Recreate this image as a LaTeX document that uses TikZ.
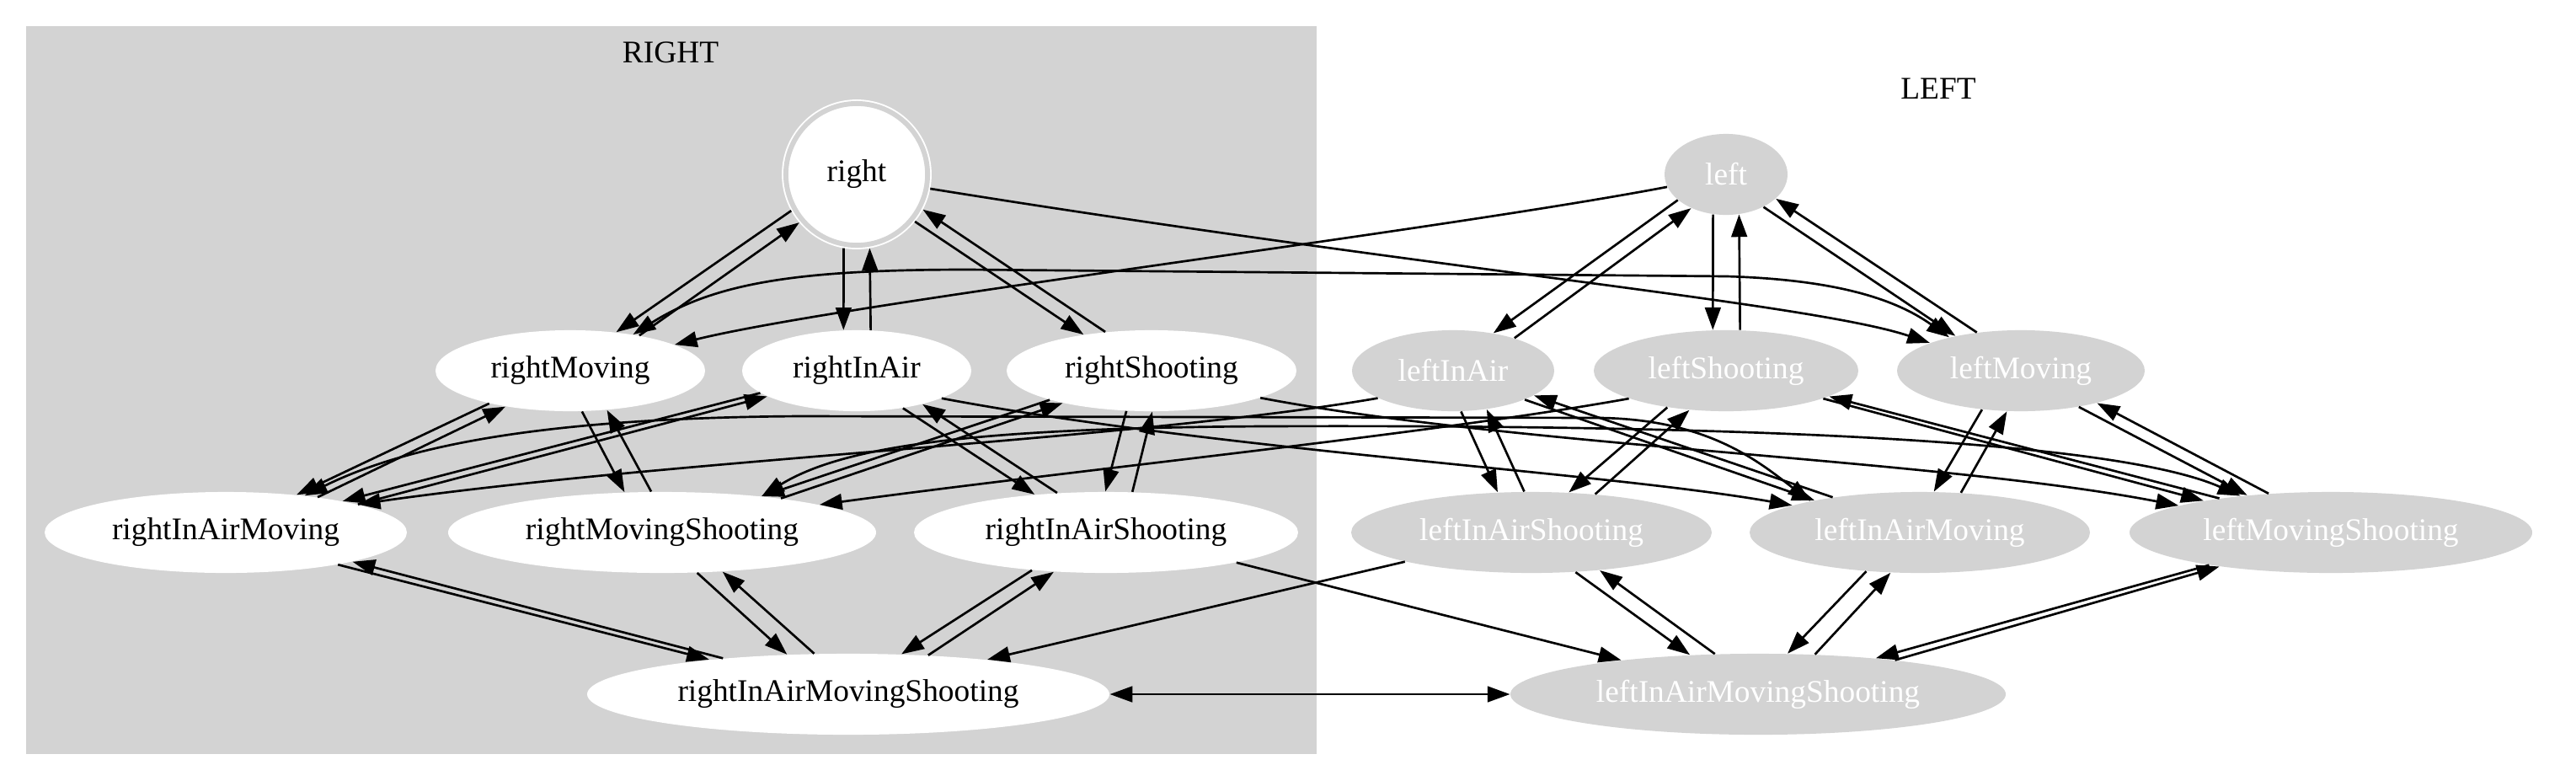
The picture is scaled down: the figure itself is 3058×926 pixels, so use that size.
\documentclass[tikz,border=0pt]{standalone}
\usepackage{fontspec}
\setmainfont{Liberation Serif}
\usetikzlibrary{arrows.meta,shapes.geometric}
\definecolor{gvgray}{HTML}{D3D3D3}
\tikzset{
  gvarrow/.style={line width=1pt,-{Triangle[length=10pt,width=7pt]}},
  gvboth/.style={line width=1pt,{Triangle[length=10pt,width=7pt]}-{Triangle[length=10pt,width=7pt]}},
  rstate/.style={ellipse,fill=white,inner sep=0pt,minimum height=36pt,minimum width=#1*0.749pt},
  lstate/.style={rstate=#1,fill=gvgray,text=white},
  startstate/.style={circle,fill=white,draw=white,line width=0.7pt,double=gvgray,
    double distance=2.2pt,minimum size=63pt,inner sep=0pt,outer sep=1.8pt}
}
% one edge of a pair, put beside the centre line
\newcommand\gvedge[2]{%
  \pgfpointdiff{\pgfpointanchor{#1}{center}}{\pgfpointanchor{#2}{center}}\pgfgetlastxy\gdx\gdy
  \pgfpointdiff{\pgfpointanchor{#1}{center}}{\pgfpointanchor{#1}{east}}\pgfgetlastxy\gax\gtmp
  \pgfpointdiff{\pgfpointanchor{#1}{center}}{\pgfpointanchor{#1}{north}}\pgfgetlastxy\gtmp\gay
  \pgfpointdiff{\pgfpointanchor{#2}{center}}{\pgfpointanchor{#2}{east}}\pgfgetlastxy\gbx\gtmp
  \pgfpointdiff{\pgfpointanchor{#2}{center}}{\pgfpointanchor{#2}{north}}\pgfgetlastxy\gtmp\gby
  \pgfmathsetmacro\gdir{atan2(\gdy,\gdx)}%
  \pgfmathsetmacro\goff{6*abs(sin(\gdir))}%
  \pgfmathsetmacro\gra{\gax*\gay/sqrt((\gay*cos(\gdir))^2+(\gax*sin(\gdir))^2)}%
  \pgfmathsetmacro\grb{\gbx*\gby/sqrt((\gby*cos(\gdir))^2+(\gbx*sin(\gdir))^2)}%
  \pgfmathsetmacro\gta{\gdir-atan(\goff/\gra)}%
  \pgfmathsetmacro\gtb{\gdir+180+atan(\goff/\grb)}%
  \draw[gvarrow] (#1.\gta) -- (#2.\gtb);
}
\newcommand\gvpair[2]{\gvedge{#1}{#2}\gvedge{#2}{#1}}

\begin{document}
\begin{tikzpicture}[x=0.3745pt,y=-0.3745pt,font=\fontsize{14}{16}\selectfont]
\useasboundingbox (0,0) rectangle (3058,926);
\fill[gvgray] (31,31) rectangle (1563,895);
\node (rightLabel) at (796,62) {RIGHT};
\node (leftLabel) at (2301,105) {LEFT};

% RIGHT
\node[startstate] (right) at (1017,207) {right};
\node[rstate=160] (rightMoving) at (677,440) {rightMoving};
\node[rstate=136] (rightInAir) at (1017,440) {rightInAir};
\node[rstate=172] (rightShooting) at (1367,440) {rightShooting};
\node[rstate=215] (rightInAirMoving) at (268,632) {rightInAirMoving};
\node[rstate=254] (rightMovingShooting) at (786,632) {rightMovingShooting};
\node[rstate=228] (rightInAirShooting) at (1313,632) {rightInAirShooting};
\node[rstate=310] (rightInAirMovingShooting) at (1007,824) {rightInAirMovingShooting};

% LEFT
\node[lstate=73] (left) at (2049,207) {left};
\node[lstate=120] (leftInAir) at (1725,440) {leftInAir};
\node[lstate=157] (leftShooting) at (2049,440) {leftShooting};
\node[lstate=147] (leftMoving) at (2399,440) {leftMoving};
\node[lstate=214] (leftInAirShooting) at (1818,632) {leftInAirShooting};
\node[lstate=202] (leftInAirMoving) at (2279,632) {leftInAirMoving};
\node[lstate=239] (leftMovingShooting) at (2767,632) {leftMovingShooting};
\node[lstate=294] (leftInAirMovingShooting) at (2087,824) {leftInAirMovingShooting};

% inside each side
\foreach \tail/\head in {right/rightMoving,right/rightInAir,right/rightShooting,
    rightMoving/rightInAirMoving,rightMoving/rightMovingShooting,
    rightInAir/rightInAirMoving,rightInAir/rightInAirShooting,
    rightShooting/rightMovingShooting,rightShooting/rightInAirShooting,
    rightInAirMoving/rightInAirMovingShooting,rightMovingShooting/rightInAirMovingShooting,
    rightInAirShooting/rightInAirMovingShooting,
    left/leftInAir,left/leftShooting,left/leftMoving,
    leftInAir/leftInAirShooting,leftInAir/leftInAirMoving,
    leftShooting/leftInAirShooting,leftShooting/leftMovingShooting,
    leftMoving/leftInAirMoving,leftMoving/leftMovingShooting,
    leftInAirShooting/leftInAirMovingShooting,leftInAirMoving/leftInAirMovingShooting,
    leftMovingShooting/leftInAirMovingShooting}
  {\gvpair{\tail}{\head}}

% turning round
\draw[gvarrow] (right.-11) .. controls (1700,320) and (2150,360) .. (leftMoving.163);
\draw[gvarrow] (left.192) .. controls (1700,275) and (1000,360) .. (rightMoving.14);
\draw[gvboth] (rightMoving.30) .. controls (850,335) and (950,320) .. (1150,320)
  -- (2050,328) .. controls (2180,332) and (2250,355) .. (leftMoving.155);
\draw[gvboth] (rightInAirMoving.25) .. controls (470,535) and (620,496) .. (950,494)
  -- (1900,496) .. controls (2030,498) and (2090,550) .. (leftInAirMoving.164);
\draw[gvboth] (rightMovingShooting.20) .. controls (1000,530) and (1150,508) .. (1500,506)
  .. controls (2000,504) and (2500,518) .. (leftMovingShooting.158);
\draw[gvarrow] (rightInAir.-18) .. controls (1450,535) and (1900,560) .. (leftInAirMoving.168);
\draw[gvarrow] (leftInAir.200) .. controls (1350,522) and (800,545) .. (rightInAirMoving.12);
\draw[gvarrow] (rightShooting.-14) .. controls (1800,530) and (2300,545) .. (leftMovingShooting.170);
\draw[gvarrow] (leftShooting.196) .. controls (1700,515) and (1300,555) .. (rightMovingShooting.10);
\draw[gvarrow] (rightInAirShooting.-13) -- (leftInAirMovingShooting.166);
\draw[gvarrow] (leftInAirShooting.193) -- (rightInAirMovingShooting.14);
\draw[gvboth] (rightInAirMovingShooting) -- (leftInAirMovingShooting);
\end{tikzpicture}
\end{document}
